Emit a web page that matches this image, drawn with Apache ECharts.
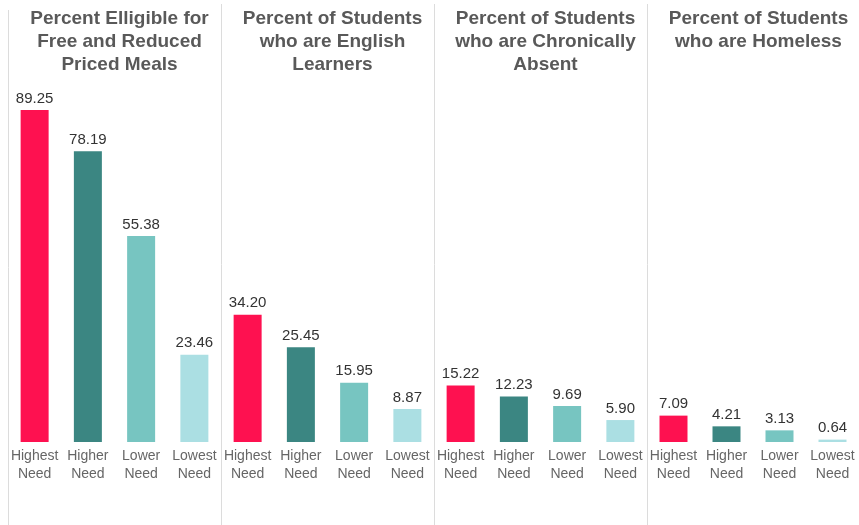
<!DOCTYPE html>
<html>
<head>
<meta charset="utf-8">
<script src="https://cdn.jsdelivr.net/npm/echarts@6/dist/echarts.min.js"></script>
<style>
  html, body { margin: 0; padding: 0; background: #fff; }
  #chart { width: 859px; height: 525px; }
</style>
</head>
<body>
<div id="chart"></div>
<script>
// Need groups shown in every panel
const needGroups = ['Highest\nNeed', 'Higher\nNeed', 'Lower\nNeed', 'Lowest\nNeed'];
const groupColors = ['#FE1150', '#3B8682', '#77C5C1', '#ABDFE3'];

// Panel titles
const panelTitles = [
  'Percent Elligible for\nFree and Reduced\nPriced Meals',
  'Percent of Students\nwho are English\nLearners',
  'Percent of Students\nwho are Chronically\nAbsent',
  'Percent of Students\nwho are Homeless'
];

// Values per panel, ordered Highest, Higher, Lower, Lowest need
const freeReducedMeals = [89.25, 78.19, 55.38, 23.46];
const englishLearners = [34.20, 25.45, 15.95, 8.87];
const chronicallyAbsent = [15.22, 12.23, 9.69, 5.90];
const homeless = [7.09, 4.21, 3.13, 0.64];
const panelValues = [freeReducedMeals, englishLearners, chronicallyAbsent, homeless];

const chart = echarts.init(document.getElementById('chart'));

const panelLeft = 8;
const panelWidth = 213;
const font = 'Arial, "Liberation Sans", sans-serif';

const grids = [], xAxes = [], yAxes = [], series = [], titles = [], graphics = [];

panelValues.forEach((vals, i) => {
  const left = panelLeft + panelWidth * i;
  grids.push({ left: left, width: panelWidth, top: 70, bottom: 83, containLabel: false });
  xAxes.push({
    type: 'category', gridIndex: i, data: needGroups,
    axisLine: { show: false }, axisTick: { show: false },
    axisLabel: {
      interval: 0, margin: 5, color: '#666', fontSize: 14,
      fontFamily: font, lineHeight: 18
    }
  });
  yAxes.push({
    type: 'value', gridIndex: i, min: 0, max: 100, show: false,
    splitLine: { show: false }
  });
  series.push({
    type: 'bar', xAxisIndex: i, yAxisIndex: i, barWidth: 28,
    data: vals.map((v, k) => ({ value: v, itemStyle: { color: groupColors[k] } })),
    label: {
      show: true, position: 'top', distance: 4,
      formatter: p => p.value.toFixed(2),
      color: '#333', fontSize: 15, fontFamily: font
    }
  });
  titles.push({
    text: panelTitles[i], left: left + panelWidth / 2, top: 2, textAlign: 'center',
    textStyle: {
      color: '#595959', fontSize: 19, fontWeight: 'bold',
      fontFamily: font, lineHeight: 23
    }
  });
  graphics.push({
    type: 'line', silent: true,
    shape: { x1: left + 0.5, y1: i === 0 ? 10 : 4, x2: left + 0.5, y2: 525 },
    style: { stroke: '#dcdcdc', lineWidth: 1 }
  });
});

chart.setOption({
  backgroundColor: '#fff',
  animation: false,
  title: titles,
  grid: grids,
  xAxis: xAxes,
  yAxis: yAxes,
  series: series,
  graphic: graphics
});
</script>
</body>
</html>
